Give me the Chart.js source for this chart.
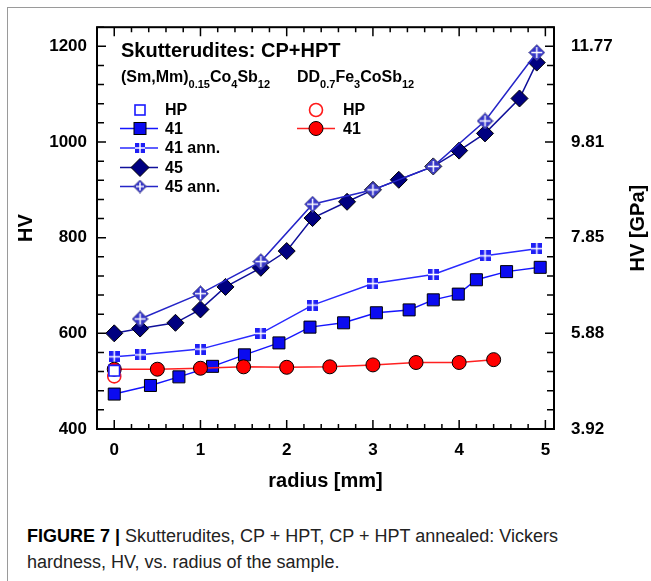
<!DOCTYPE html>
<html>
<head>
<meta charset="utf-8">
<script src="https://cdn.jsdelivr.net/npm/chart.js"></script>
<style>
  body { margin: 0; background: #fff; }
  #frame { position: absolute; left: 7px; top: 7px; width: 660px; height: 600px;
           border-left: 1.5px solid #9a9a9a; border-top: 1.5px solid #9a9a9a; }
  #wrap { position: absolute; left: 0; top: 0; width: 651px; height: 510px; }
  #caption { position: absolute; left: 27px; top: 523px; font-family: "Liberation Sans", Arial, sans-serif;
             font-size: 18px; line-height: 26px; color: #222; white-space: nowrap; }
  #caption b { color: #000; }
</style>
</head>
<body>
<div id="frame"></div>
<div id="wrap"><canvas id="hvChart"></canvas></div>
<div id="caption"><b>FIGURE 7 |</b> Skutterudites, CP + HPT, CP + HPT annealed: Vickers<br>hardness, HV, vs. radius of the sample.</div>
<script>
// (Sm,Mm)0.15Co4Sb12 - sample 41, CP+HPT
const r41 = [0, 0.42, 0.75, 1.14, 1.51, 1.91, 2.27, 2.66, 3.04, 3.42, 3.70, 3.99, 4.20, 4.55, 4.94];
const hv41 = [473, 491, 509, 531, 555, 580, 613, 622, 643, 649, 670, 682, 712, 729, 738];
// sample 41 annealed
const r41ann = [0, 0.3, 1.0, 1.7, 2.3, 3.0, 3.7, 4.3, 4.9];
const hv41ann = [551, 555, 567, 600, 659, 704, 723, 762, 777];
// sample 45
const r45 = [0, 0.3, 0.71, 1.0, 1.29, 1.7, 2.0, 2.3, 2.7, 3.0, 3.3, 3.7, 4.0, 4.3, 4.7, 4.9];
const hv45 = [600, 610, 622, 650, 697, 737, 772, 841, 875, 900, 921, 949, 982, 1018, 1091, 1166];
// sample 45 annealed
const r45ann = [0.3, 1.0, 1.7, 2.3, 3.0, 3.7, 4.3, 4.9];
const hv45ann = [630, 683, 750, 870, 900, 949, 1044, 1187];
// DD0.7Fe3CoSb12 - sample 41
const rDD = [0, 0.5, 1.0, 1.5, 2.0, 2.5, 3.0, 3.5, 4.0, 4.4];
const hvDD = [525, 525, 527, 530, 529, 530, 534, 539, 539, 545];
// hot pressed reference values (at r = 0)
const rHP = [0];
const hvHPsm = [522];
const hvHPdd = [510];

// axes
const xTicks = [0, 1, 2, 3, 4, 5];
const hvTicks = [400, 600, 800, 1000, 1200];
const gpaLabels = ['3.92', '5.88', '7.85', '9.81', '11.77'];

const FONT = '"Liberation Sans", Arial, sans-serif';

function pts(xs, ys) {
    return xs.map((x, i) => ({ x: x, y: ys[i] }));
}

// small square split by a white cross (annealed 41)
function annSquare(color, size) {
    const c = document.createElement('canvas');
    c.width = size; c.height = size;
    const g = c.getContext('2d');
    g.fillStyle = color;
    g.fillRect(0, 0, size, size);
    g.fillStyle = '#fff';
    const m = size / 2;
    g.fillRect(m - 0.75, 0, 1.5, size);
    g.fillRect(0, m - 0.75, size, 1.5);
    return c;
}

// diamond with a white cross (annealed 45)
function annDiamond(color, size) {
    const c = document.createElement('canvas');
    c.width = size; c.height = size;
    const g = c.getContext('2d');
    const m = size / 2;
    g.beginPath();
    g.moveTo(m, 0.5); g.lineTo(size - 0.5, m); g.lineTo(m, size - 0.5); g.lineTo(0.5, m);
    g.closePath();
    g.fillStyle = color;
    g.fill();
    g.strokeStyle = '#5a5a8a';
    g.lineWidth = 0.8;
    g.stroke();
    g.strokeStyle = '#fff';
    g.lineWidth = 1.5;
    g.beginPath();
    g.moveTo(m, 3); g.lineTo(m, size - 3);
    g.moveTo(3, m); g.lineTo(size - 3, m);
    g.stroke();
    return c;
}

const sq41ann = annSquare('#1f1ff5', 11);
const sq41annSmall = annSquare('#1f1ff5', 10);
const dia45ann = annDiamond('#3535c8', 17);
const dia45annSmall = annDiamond('#3535c8', 14);

// frame with inward ticks, drawn from the scales
const frameTicks = {
    id: 'frameTicks',
    beforeDatasetsDraw(chart) {
        const ctx = chart.ctx;
        const a = chart.chartArea;
        const sx = chart.scales.x, sy = chart.scales.y;
        ctx.save();
        ctx.strokeStyle = '#000';
        ctx.lineWidth = 1.5;
        ctx.beginPath();
        for (let i = -1; i <= 25; i++) {
            const v = i * 0.2;
            const px = sx.getPixelForValue(v);
            if (px < a.left || px > a.right) continue;
            const len = (i % 5 === 0) ? 9 : 5;
            ctx.moveTo(px, a.bottom); ctx.lineTo(px, a.bottom - len);
            ctx.moveTo(px, a.top); ctx.lineTo(px, a.top + len);
        }
        for (let v = 400; v <= 1240; v += 40) {
            const py = sy.getPixelForValue(v);
            const len = (v % 200 === 0) ? 9 : 7;
            ctx.moveTo(a.left, py); ctx.lineTo(a.left + len, py);
            ctx.moveTo(a.right, py); ctx.lineTo(a.right - len, py);
        }
        ctx.stroke();
        ctx.lineWidth = 2;
        ctx.strokeRect(a.left, a.top, a.right - a.left, a.bottom - a.top);
        ctx.restore();
    }
};

// draws text with subscripts: parts = [[text, isSub], ...]
function drawSub(ctx, x, y, parts) {
    parts.forEach(p => {
        ctx.font = p[1] ? 'bold 11px ' + FONT : 'bold 16px ' + FONT;
        ctx.fillText(p[0], x, p[1] ? y + 7 : y);
        x += ctx.measureText(p[0]).width;
    });
}

function legendMark(ctx, kind, x, y) {
    ctx.save();
    if (kind === 'sqOpen') {
        ctx.fillStyle = '#fff'; ctx.strokeStyle = '#1a1aff'; ctx.lineWidth = 1.6;
        ctx.fillRect(x - 5, y - 5, 10, 10); ctx.strokeRect(x - 5, y - 5, 10, 10);
    } else if (kind === 'sq') {
        ctx.fillStyle = '#0b0bf0'; ctx.strokeStyle = '#000'; ctx.lineWidth = 1;
        ctx.fillRect(x - 6, y - 6, 12, 12); ctx.strokeRect(x - 6, y - 6, 12, 12);
    } else if (kind === 'sqAnn') {
        ctx.drawImage(sq41annSmall, x - 5, y - 5);
    } else if (kind === 'dia') {
        ctx.beginPath();
        ctx.moveTo(x, y - 9); ctx.lineTo(x + 9, y); ctx.lineTo(x, y + 9); ctx.lineTo(x - 9, y);
        ctx.closePath();
        ctx.fillStyle = '#000080'; ctx.fill();
        ctx.strokeStyle = '#000'; ctx.lineWidth = 1; ctx.stroke();
    } else if (kind === 'diaAnn') {
        ctx.drawImage(dia45annSmall, x - 7, y - 7);
    } else if (kind === 'ciOpen') {
        ctx.beginPath(); ctx.arc(x, y, 6.5, 0, 2 * Math.PI);
        ctx.fillStyle = '#fff'; ctx.fill();
        ctx.strokeStyle = '#ff1a1a'; ctx.lineWidth = 1.6; ctx.stroke();
    } else if (kind === 'ci') {
        ctx.beginPath(); ctx.arc(x, y, 7, 0, 2 * Math.PI);
        ctx.fillStyle = '#ff0000'; ctx.fill();
        ctx.strokeStyle = '#000'; ctx.lineWidth = 1; ctx.stroke();
    }
    ctx.restore();
}

const notes = {
    id: 'notes',
    afterDraw(chart) {
        const ctx = chart.ctx;
        ctx.save();
        ctx.fillStyle = '#000';
        ctx.textBaseline = 'middle';
        ctx.textAlign = 'left';
        ctx.font = 'bold 20px ' + FONT;
        ctx.fillText('Skutterudites: CP+HPT', 121, 51);
        drawSub(ctx, 121, 78, [['(Sm,Mm)', 0], ['0.15', 1], ['Co', 0], ['4', 1], ['Sb', 0], ['12', 1]]);
        drawSub(ctx, 297, 78, [['DD', 0], ['0.7', 1], ['Fe', 0], ['3', 1], ['CoSb', 0], ['12', 1]]);

        const rows = [
            ['HP', 'sqOpen', null, 110],
            ['41', 'sq', '#1515ff', 128.5],
            ['41 ann.', 'sqAnn', '#2a2aff', 148],
            ['45', 'dia', '#10109a', 167.5],
            ['45 ann.', 'diaAnn', '#2525c8', 186.5]
        ];
        rows.forEach(r => {
            if (r[2]) {
                ctx.strokeStyle = r[2]; ctx.lineWidth = 1.5;
                ctx.beginPath(); ctx.moveTo(120, r[3]); ctx.lineTo(158, r[3]); ctx.stroke();
            }
            legendMark(ctx, r[1], 140, r[3]);
            ctx.fillStyle = '#000';
            ctx.font = 'bold 16px ' + FONT;
            ctx.fillText(r[0], 165, r[3] + 1);
        });
        legendMark(ctx, 'ciOpen', 316, 110);
        ctx.fillText('HP', 343, 111);
        ctx.strokeStyle = '#ff2020'; ctx.lineWidth = 1.5;
        ctx.beginPath(); ctx.moveTo(297, 128.5); ctx.lineTo(335, 128.5); ctx.stroke();
        legendMark(ctx, 'ci', 316, 128.5);
        ctx.fillStyle = '#000';
        ctx.fillText('41', 343, 129.5);

        // right axis title, reading bottom to top
        ctx.font = 'bold 20px ' + FONT;
        ctx.textAlign = 'center';
        ctx.translate(638, (chart.chartArea.top + chart.chartArea.bottom) / 2);
        ctx.rotate(-Math.PI / 2);
        ctx.fillText('HV [GPa]', 0, 0);
        ctx.restore();
    }
};

const tickFont = { family: FONT, size: 17, weight: 'bold' };
const titleFont = { family: FONT, size: 20, weight: 'bold' };

new Chart(document.getElementById('hvChart'), {
    type: 'scatter',
    data: {
        datasets: [
            { label: 'HP (Sm,Mm)', data: pts(rHP, hvHPsm), pointStyle: 'rect', pointRadius: 7.5,
              backgroundColor: '#fff', borderColor: '#1a1aff', borderWidth: 1.6, order: 0 },
            { label: 'HP DD', data: pts(rHP, hvHPdd), pointStyle: 'circle', pointRadius: 6.5,
              backgroundColor: '#fff', borderColor: '#ff1a1a', borderWidth: 1.6, order: 2 },
            { label: '41 DD', data: pts(rDD, hvDD), showLine: true, borderColor: '#ff2020', borderWidth: 1.5,
              pointStyle: 'circle', pointRadius: 7, pointBackgroundColor: '#ff0000',
              pointBorderColor: '#000', pointBorderWidth: 1, order: 1 },
            { label: '41', data: pts(r41, hv41), showLine: true, borderColor: '#1515ff', borderWidth: 1.5,
              pointStyle: 'rect', pointRadius: 8.5, pointBackgroundColor: '#0b0bf0',
              pointBorderColor: '#000', pointBorderWidth: 1, order: 3 },
            { label: '41 ann.', data: pts(r41ann, hv41ann), showLine: true, borderColor: '#2a2aff', borderWidth: 1.5,
              pointStyle: sq41ann, order: 4 },
            { label: '45 ann.', data: pts(r45ann, hv45ann), showLine: true, borderColor: '#2525c8', borderWidth: 1.5,
              pointStyle: dia45ann, order: 5 },
            { label: '45', data: pts(r45, hv45), showLine: true, borderColor: '#10109a', borderWidth: 1.5,
              pointStyle: 'rectRot', pointRadius: 8.5, pointBackgroundColor: '#000080',
              pointBorderColor: '#000', pointBorderWidth: 1, order: 6 }
        ]
    },
    options: {
        responsive: true,
        maintainAspectRatio: false,
        animation: false,
        layout: { padding: { top: 23, left: 0, right: 0, bottom: 0 } },
        plugins: { legend: { display: false }, tooltip: { enabled: false } },
        scales: {
            x: {
                type: 'linear', min: -0.2, max: 5.1,
                grid: { display: false, drawTicks: false }, border: { display: false },
                afterBuildTicks: s => { s.ticks = xTicks.map(v => ({ value: v })); },
                afterFit: s => { s.height = 81; },
                ticks: { font: tickFont, color: '#000', padding: 11, autoSkip: false, maxRotation: 0,
                         callback: v => String(v) },
                title: { display: true, text: 'radius [mm]', font: titleFont, color: '#000',
                         padding: { top: 0, bottom: 17 } }
            },
            y: {
                position: 'left', min: 400, max: 1240,
                grid: { display: false, drawTicks: false }, border: { display: false },
                afterBuildTicks: s => { s.ticks = hvTicks.map(v => ({ value: v })); },
                afterFit: s => { s.width = 97; },
                ticks: { font: tickFont, color: '#000', padding: 10, autoSkip: false,
                         callback: v => String(v) },
                title: { display: true, text: 'HV', font: titleFont, color: '#000',
                         padding: { top: 14, bottom: 0 } }
            },
            y1: {
                position: 'right', min: 400, max: 1240,
                grid: { display: false, drawTicks: false }, border: { display: false },
                afterBuildTicks: s => { s.ticks = hvTicks.map(v => ({ value: v })); },
                afterFit: s => { s.width = 97; },
                ticks: { font: tickFont, color: '#000', padding: 17, autoSkip: false,
                         callback: (v, i) => gpaLabels[i] }
            }
        }
    },
    plugins: [frameTicks, notes]
});
</script>
</body>
</html>
